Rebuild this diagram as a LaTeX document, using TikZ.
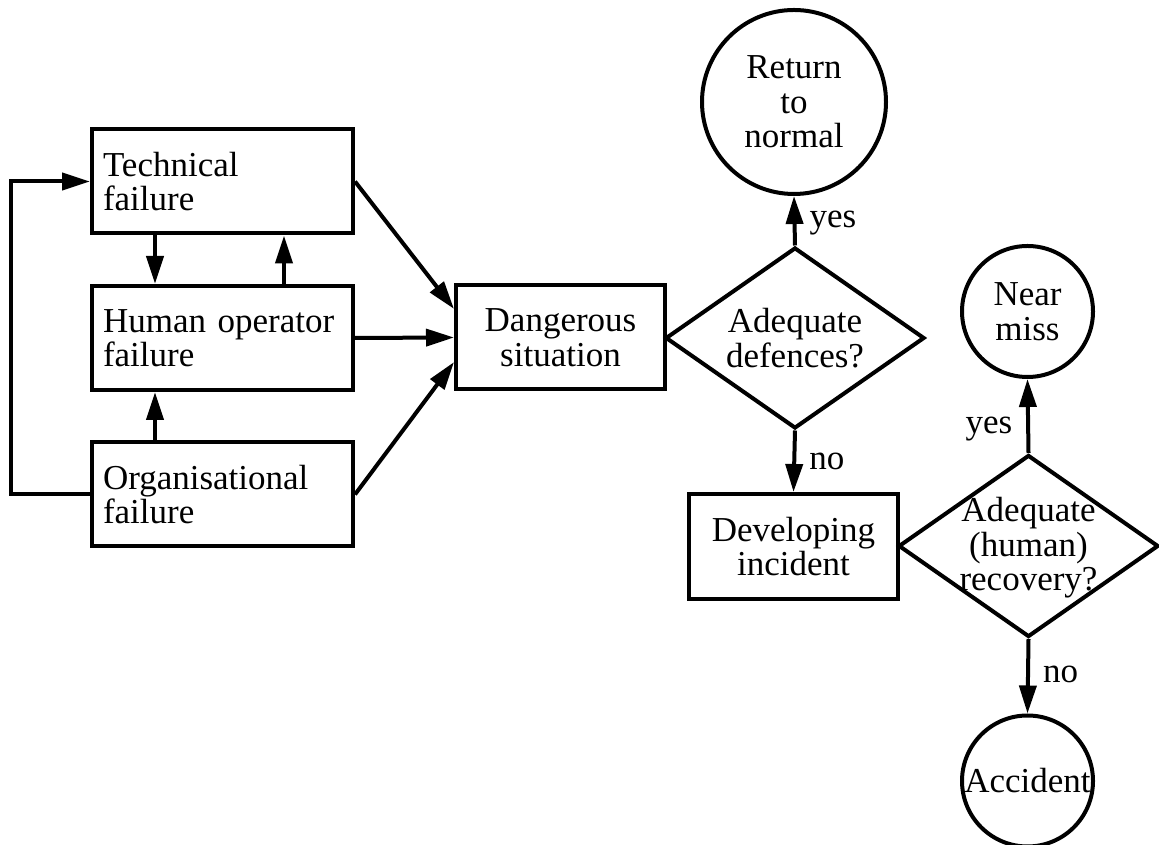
\documentclass[tikz,border=0pt]{standalone}
\usepackage{fontspec}
\setmainfont{Liberation Serif}
\usetikzlibrary{arrows.meta,shapes.geometric,calc}
\begin{document}
\begin{tikzpicture}[x=1pt,y=1pt,
  font=\fontsize{35}{34.5}\selectfont,
  every node/.style={inner sep=0pt},
  lw/.style={line width=4pt},
  leftbox/.style={lw,draw,rectangle,minimum width=261pt,minimum height=104pt,text width=239pt,align=left},
  midbox/.style={lw,draw,rectangle,minimum width=209pt,minimum height=104pt,align=center},
  decision/.style={lw,draw,diamond,minimum width=259pt,minimum height=181pt},
  endstate/.style={lw,draw,circle,align=center},
  conn/.style={lw,-{Triangle[length=28pt,width=17pt]}},
  lbl/.style={inner sep=0pt}
]
\useasboundingbox (0,0) rectangle (1159,845);

\node[leftbox] (tech) at (222.5,663.5) {Technical\\failure};
\node[leftbox] (human) at (222.5,507) {Human operator\\failure};
\node[leftbox] (org) at (222.5,350.5) {Organisational\\failure};
\node[midbox] (danger) at (560.5,507.5) {Dangerous\\situation};
\node[decision] (dia1) at (795,507) {};
\node[align=center] (dia1text) at (dia1.center) {Adequate\\defences?};
\node[endstate,minimum size=184pt] (ret) at (794,743) {Return\\to\\normal};
\node[midbox,minimum height=105pt] (dev) at (793.5,298.5) {Developing\\incident};
\node[decision,minimum width=260pt,minimum height=182pt] (dia2) at (1028.5,299) {};
\node[align=center] (dia2text) at ([yshift=-2pt]dia2.center) {Adequate\\(human)\\recovery?};
\node[endstate,minimum size=131pt] (near) at (1027.5,533.5) {Near\\miss};
\node[endstate,minimum size=131pt] (acc) at (1027.5,64) {Accident};

% left group
\draw[conn] ([xshift=65pt]tech.south west) -- ([xshift=65pt]human.north west);
\draw[conn] ([xshift=194pt]human.north west) -- ([xshift=194pt]tech.south west);
\draw[conn] ([xshift=65pt]org.north west) -- ([xshift=65pt]human.south west);
\draw[conn] (org.west) -- ++(-79,0) |- (tech.west);

% into dangerous situation
\draw[conn] (tech.east) -- (danger.165);
\draw[conn] (human.east) -- (danger.west);
\draw[conn] (org.east) -- (danger.193);

% decisions
\draw[conn] (dia1.north) -- node[lbl,right=13pt,pos=0.45] {yes} (ret.south);
\draw[conn] (dia1.south) -- node[lbl,right=13pt,pos=0.5] {no} (dev.north);
\draw[conn] (dia2.north) -- node[lbl,left=14pt,pos=0.32] {yes} (near.south);
\draw[conn] (dia2.south) -- node[lbl,right=13pt,pos=0.48] {no} (acc.north);
\end{tikzpicture}
\end{document}
